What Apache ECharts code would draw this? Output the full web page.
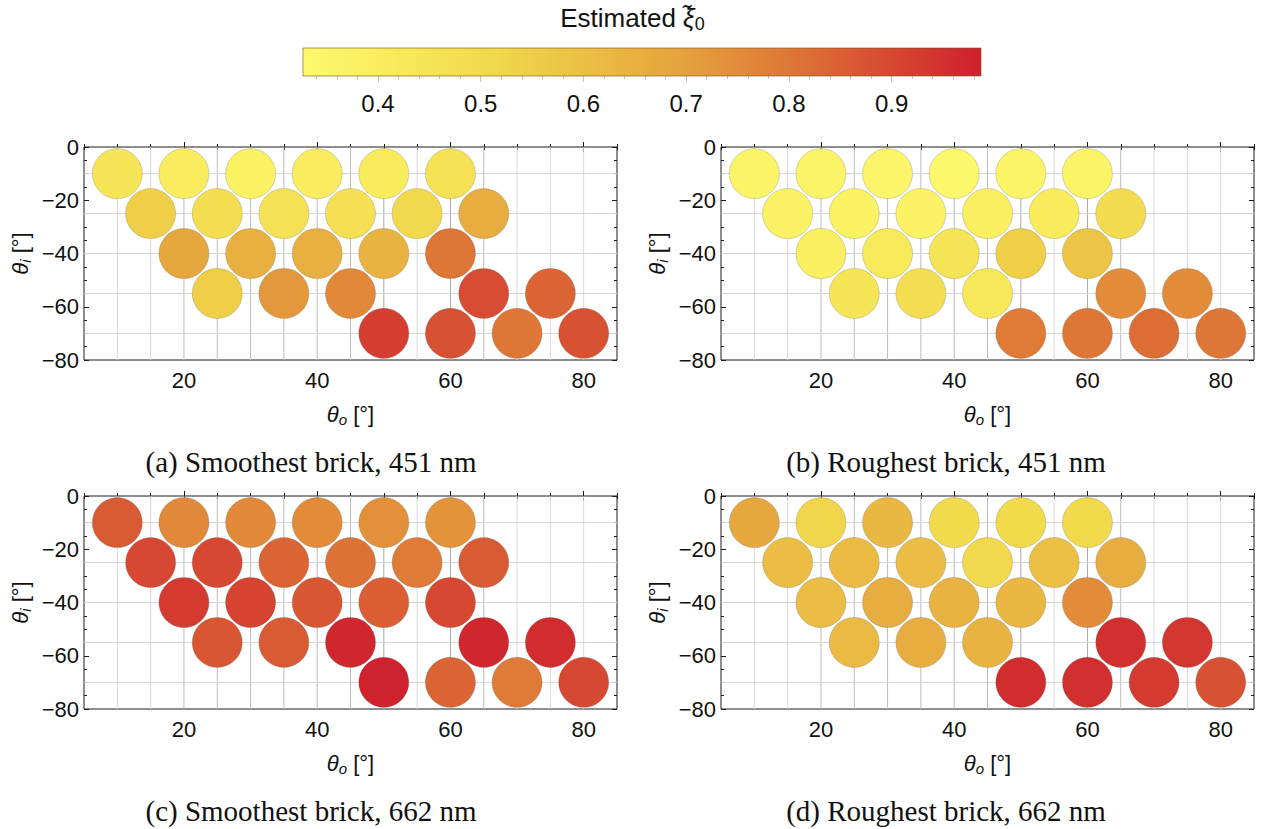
<!DOCTYPE html>
<html>
<head>
<meta charset="utf-8">
<script src="https://cdn.jsdelivr.net/npm/echarts@6/dist/echarts.min.js"></script>
<style>
  html, body { margin: 0; padding: 0; background: #ffffff; }
  #chart { width: 1265px; height: 829px; }
</style>
</head>
<body>
<div id="chart"></div>
<script>
// Measurement geometry: outgoing angle θo and incident angle θi (degrees)
const thetaO = [10, 20, 30, 40, 50, 60,
                15, 25, 35, 45, 55, 65,
                20, 30, 40, 50, 60,
                25, 35, 45, 65, 75,
                50, 60, 70, 80];
const thetaI = [-10, -10, -10, -10, -10, -10,
                -25, -25, -25, -25, -25, -25,
                -40, -40, -40, -40, -40,
                -55, -55, -55, -55, -55,
                -70, -70, -70, -70];

// Estimated ξ̃0 per geometry, one list per brick sample / wavelength
const xiSmooth451 = [0.44, 0.40, 0.38, 0.40, 0.41, 0.46,
                     0.55, 0.48, 0.46, 0.47, 0.51, 0.66,
                     0.68, 0.65, 0.65, 0.64, 0.80,
                     0.55, 0.72, 0.76, 0.89, 0.84,
                     0.92, 0.88, 0.80, 0.88];
const xiRough451  = [0.36, 0.36, 0.35, 0.34, 0.36, 0.36,
                     0.37, 0.38, 0.37, 0.39, 0.41, 0.49,
                     0.39, 0.42, 0.45, 0.55, 0.58,
                     0.44, 0.48, 0.43, 0.75, 0.75,
                     0.79, 0.80, 0.82, 0.80];
const xiSmooth662 = [0.86, 0.76, 0.76, 0.75, 0.74, 0.73,
                     0.90, 0.90, 0.84, 0.81, 0.79, 0.86,
                     0.93, 0.91, 0.87, 0.85, 0.90,
                     0.87, 0.86, 0.97, 0.97, 0.96,
                     0.98, 0.84, 0.79, 0.90];
const xiRough662  = [0.68, 0.52, 0.63, 0.50, 0.50, 0.50,
                     0.61, 0.62, 0.61, 0.51, 0.60, 0.66,
                     0.61, 0.66, 0.64, 0.63, 0.75,
                     0.62, 0.66, 0.64, 0.95, 0.94,
                     0.96, 0.95, 0.93, 0.88];

const panelCaptions = ['(a) Smoothest brick, 451 nm', '(b) Roughest brick, 451 nm',
                       '(c) Smoothest brick, 662 nm', '(d) Roughest brick, 662 nm'];

// Axis ticks
const xMajorTicks = [20, 40, 60, 80];
const barRange = [0.327, 0.987];
const barMajorTicks = [0.4, 0.5, 0.6, 0.7, 0.8, 0.9];
const barMinorTicks = [0.34, 0.36, 0.38, 0.42, 0.44, 0.46, 0.48, 0.52, 0.54, 0.56, 0.58,
                       0.62, 0.64, 0.66, 0.68, 0.72, 0.74, 0.76, 0.78, 0.82, 0.84, 0.86,
                       0.88, 0.92, 0.94, 0.96, 0.98];

// Yellow-to-red colour ramp
const rampColors = ['#FEF96E', '#F7EA5A', '#F1D74B', '#EBBD44', '#E59F3D', '#DE7836', '#D74B32', '#CF1F2D'];

const SANS = '"Liberation Sans", Arial, sans-serif';
const SERIF = '"Liberation Serif", "Times New Roman", serif';

const panelValues = [xiSmooth451, xiRough451, xiSmooth662, xiRough662];
const panelPos = [[84, 147], [721, 147], [84, 496], [721, 496]];
const PW = 533, PH = 213;
const X_MIN = 5, X_MAX = 85, Y_MIN = -80, Y_MAX = 0;

const nameRich = {
  th: { fontFamily: SANS, fontSize: 22, fontStyle: 'italic', color: '#111', lineHeight: 26, verticalAlign: 'middle' },
  sub: { fontFamily: SANS, fontSize: 15, fontStyle: 'italic', color: '#111', lineHeight: 10, verticalAlign: 'bottom' },
  n: { fontFamily: SANS, fontSize: 22, color: '#111', lineHeight: 26, verticalAlign: 'middle' }
};

const grid = [], xAxis = [], yAxis = [], series = [];
const scatterIdx = [];

// grid-line weights: vertical lines darker where more measurements share the column
const colCount = {};
thetaO.forEach(x => { colCount[x] = (colCount[x] || 0) + 1; });
const gridXs = Object.keys(colCount).map(Number).sort((a, b) => a - b);
const gridYs = Array.from(new Set(thetaI));
const vShade = ['#d8d8d8', '#d8d8d8', '#bcbcbc', '#a9a9a9'];

panelPos.forEach(([l, t], p) => {
  grid.push({ left: l, top: t, width: PW, height: PH, show: true, borderColor: '#1c1c1c', borderWidth: 1,
              backgroundColor: '#ffffff', containLabel: false, outerBoundsMode: 'none' });
  const base = { gridIndex: p, type: 'value', min: X_MIN, max: X_MAX, axisLine: { show: false },
                 splitLine: { show: false } };
  // bottom, with labels and name
  xAxis.push(Object.assign({}, base, {
    position: 'bottom',
    axisTick: { inside: true, length: 5, customValues: xMajorTicks, lineStyle: { color: '#1c1c1c' } },
    axisLabel: { customValues: xMajorTicks, fontFamily: SANS, fontSize: 22, color: '#111', margin: 9 },
    name: '{th|θ}{sub|o}{n| [°]}', nameLocation: 'middle', nameGap: 41,
    nameTextStyle: { rich: nameRich }
  }));
  xAxis.push(Object.assign({}, base, {
    position: 'bottom', interval: 5,
    axisTick: { inside: true, length: 3, lineStyle: { color: '#1c1c1c' } }, axisLabel: { show: false }
  }));
  xAxis.push(Object.assign({}, base, {
    position: 'top',
    axisTick: { inside: true, length: 5, customValues: xMajorTicks, lineStyle: { color: '#1c1c1c' } },
    axisLabel: { show: false }
  }));
  xAxis.push(Object.assign({}, base, {
    position: 'top', interval: 5,
    axisTick: { inside: true, length: 3, lineStyle: { color: '#1c1c1c' } }, axisLabel: { show: false }
  }));

  const ybase = { gridIndex: p, type: 'value', min: Y_MIN, max: Y_MAX, axisLine: { show: false },
                  splitLine: { show: false } };
  yAxis.push(Object.assign({}, ybase, {
    position: 'left', interval: 20,
    axisTick: { inside: true, length: 5, lineStyle: { color: '#1c1c1c' } },
    axisLabel: { fontFamily: SANS, fontSize: 22, color: '#111', margin: 5,
                 formatter: v => String(v).replace('-', '\u2212') },
    name: '{th|θ}{sub|i}{n| [°]}', nameLocation: 'middle', nameGap: 51,
    nameTextStyle: { rich: nameRich }
  }));
  yAxis.push(Object.assign({}, ybase, {
    position: 'left', interval: 5,
    axisTick: { inside: true, length: 3, lineStyle: { color: '#1c1c1c' } }, axisLabel: { show: false }
  }));
  yAxis.push(Object.assign({}, ybase, {
    position: 'right', interval: 20,
    axisTick: { inside: true, length: 5, lineStyle: { color: '#1c1c1c' } }, axisLabel: { show: false }
  }));
  yAxis.push(Object.assign({}, ybase, {
    position: 'right', interval: 5,
    axisTick: { inside: true, length: 3, lineStyle: { color: '#1c1c1c' } }, axisLabel: { show: false }
  }));

  // background grid lines
  const lines = [];
  gridXs.forEach(x => lines.push([x, (Y_MIN + Y_MAX) / 2, 0, colCount[x]]));
  gridYs.forEach(y => lines.push([(X_MIN + X_MAX) / 2, y, 1, 0]));
  series.push({
    type: 'custom', xAxisIndex: p * 4, yAxisIndex: p * 4, z: 1, silent: true, animation: false,
    encode: { x: 0, y: 1 },
    data: lines,
    renderItem: (params, api) => {
      const kind = api.value(2);
      let a, b, stroke;
      if (kind === 0) {
        const x = api.value(0);
        a = api.coord([x, Y_MAX]); b = api.coord([x, Y_MIN]);
        stroke = vShade[Math.min(api.value(3), 3)];
      } else {
        const y = api.value(1);
        a = api.coord([X_MIN, y]); b = api.coord([X_MAX, y]);
        stroke = '#d4d4d4';
      }
      return { type: 'line', shape: { x1: a[0], y1: a[1], x2: b[0], y2: b[1] },
               style: { stroke: stroke, lineWidth: 1 } };
    }
  });

  // measurement discs
  scatterIdx.push(series.length);
  series.push({
    type: 'scatter', xAxisIndex: p * 4, yAxisIndex: p * 4, z: 3, silent: true, animation: false,
    symbol: 'circle', symbolSize: 50,
    itemStyle: { borderColor: 'rgba(90,90,90,0.35)', borderWidth: 0.7, opacity: 1 },
    emphasis: { disabled: true },
    data: thetaO.map((x, i) => [x, thetaI[i], panelValues[p][i]])
  });
});

// colour bar
grid.push({ left: 303, top: 48, width: 678, height: 28, show: false, containLabel: false, outerBoundsMode: 'none' });
const cb = grid.length - 1;
xAxis.push({
  gridIndex: cb, type: 'value', min: barRange[0], max: barRange[1], position: 'bottom',
  axisLine: { show: false }, splitLine: { show: false },
  axisTick: { length: 6, customValues: barMajorTicks, lineStyle: { color: '#c4c4c4' } },
  axisLabel: { customValues: barMajorTicks, fontFamily: SANS, fontSize: 24, color: '#111', margin: 15,
               formatter: v => v.toFixed(1) }
});
xAxis.push({
  gridIndex: cb, type: 'value', min: barRange[0], max: barRange[1], position: 'bottom',
  axisLine: { show: false }, splitLine: { show: false },
  axisTick: { length: 3, customValues: barMinorTicks, lineStyle: { color: '#c4c4c4' } },
  axisLabel: { show: false }
});
yAxis.push({ gridIndex: cb, type: 'value', min: 0, max: 1, show: false });
series.push({
  type: 'custom', xAxisIndex: xAxis.length - 2, yAxisIndex: yAxis.length - 1, silent: true, animation: false,
  encode: { x: [0, 2], y: [1, 3] },
  data: [[barRange[0], 0, barRange[1], 1]],
  renderItem: (params, api) => {
    const a = api.coord([api.value(0), api.value(3)]);
    const b = api.coord([api.value(2), api.value(1)]);
    const stops = rampColors.map((c, i) => ({ offset: i / (rampColors.length - 1), color: c }));
    return {
      type: 'rect',
      shape: { x: a[0], y: a[1], width: b[0] - a[0], height: b[1] - a[1] },
      style: { fill: new echarts.graphic.LinearGradient(0, 0, 1, 0, stops),
               stroke: 'rgba(120,80,20,0.6)', lineWidth: 1 }
    };
  }
});

const captionX = [311, 946], captionY = [462, 811];

const option = {
  backgroundColor: '#ffffff',
  animation: false,
  title: {
    text: '{t|Estimated }{x|ξ̃}{s|0}',
    left: 'center', top: -2,
    textStyle: {
      fontWeight: 'normal',
      rich: {
        t: { fontFamily: SANS, fontSize: 26, fontWeight: 'normal', color: '#111', lineHeight: 30, verticalAlign: 'middle' },
        x: { fontFamily: SANS, fontSize: 26, fontWeight: 'normal', fontStyle: 'italic', color: '#111', lineHeight: 30, verticalAlign: 'middle' },
        s: { fontFamily: SANS, fontSize: 18, fontWeight: 'normal', color: '#111', lineHeight: 12, verticalAlign: 'bottom' }
      }
    }
  },
  grid: grid,
  xAxis: xAxis,
  yAxis: yAxis,
  visualMap: {
    type: 'continuous', show: false, min: barRange[0], max: barRange[1], dimension: 2,
    seriesIndex: scatterIdx, inRange: { color: rampColors }
  },
  graphic: panelCaptions.map((c, i) => ({
    type: 'text', x: captionX[i % 2], y: captionY[Math.floor(i / 2)], silent: true,
    style: { text: c, fill: '#111', fontFamily: SERIF, fontSize: 29, align: 'center', verticalAlign: 'middle' }
  })),
  series: series
};

const chart = echarts.init(document.getElementById('chart'), null, { renderer: 'svg' });
chart.setOption(option);
</script>
</body>
</html>
